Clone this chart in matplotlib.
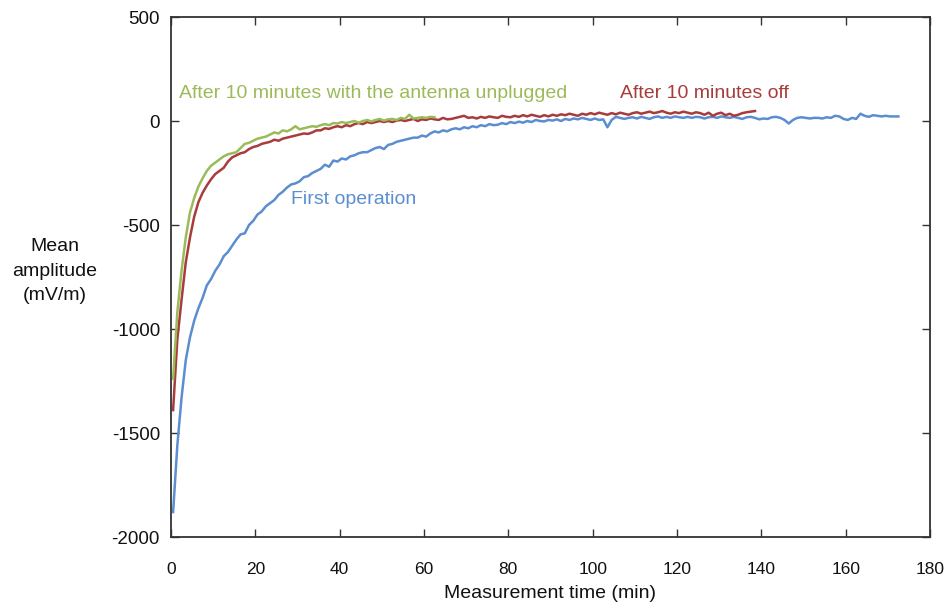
import numpy as np
import matplotlib
matplotlib.use("Agg")
import matplotlib.pyplot as plt

plt.rcParams['font.family'] = ['Liberation Sans', 'DejaVu Sans']
plt.rcParams['axes.unicode_minus'] = False

# ---- data (mV/m), sampled each minute starting at 0.5 min ----
first_operation = [
    -1880, -1560, -1330, -1150, -1040, -960, -900, -850, -790, -760,
    -720, -690, -650, -630, -600, -570, -545, -540, -500, -480,
    -450, -435, -410, -395, -380, -355, -340, -320, -305, -300,
    -290, -270, -265, -250, -240, -230, -210, -220, -190, -195,
    -180, -185, -170, -165, -155, -150, -150, -140, -130, -125,
    -135, -115, -110, -100, -95, -90, -85, -80, -80, -70,
    -75, -60, -50, -55, -45, -50, -40, -35, -40, -30,
    -35, -25, -30, -20, -25, -15, -20, -18, -10, -15,
    -5, -10, -3, -8, 0, -5, 5, 0, -2, 5,
    2, 8, 0, 10, 5, 12, 8, 15, 10, 5,
    12, 5, 8, -30, 5, 20, 15, 10, 15, 18,
    12, 20, 15, 10, 18, 22, 15, 20, 15, 22,
    18, 15, 20, 15, 20, 18, 12, 18, 20, 15,
    22, 18, 15, 20, 15, 10, 18, 20, 15, 8,
    12, 10, 18, 20, 15, 5, -12, 5, 15, 18,
    15, 12, 15, 15, 12, 18, 15, 25, 22, 10,
    5, 15, 10, 35, 25, 20, 28, 25, 22, 25,
    22, 22, 22,
]

after_off = [
    -1390, -1050, -860, -680, -560, -460, -390, -345, -310, -280,
    -255, -240, -225, -195, -175, -165, -155, -150, -135, -125,
    -120, -110, -105, -100, -90, -95, -85, -80, -75, -70,
    -65, -60, -62, -55, -45, -45, -35, -38, -30, -25,
    -30, -20, -25, -15, -10, -15, -5, -10, -5, 0,
    -5, 0, -5, 2, 5, 0, 5, 10, 0, 8,
    5, 12, 8, 5, 15, 8, 10, 15, 20, 25,
    15, 18, 12, 20, 15, 22, 18, 15, 25, 20,
    18, 25, 20, 28, 22, 30, 25, 20, 28, 22,
    30, 25, 32, 28, 35, 30, 25, 35, 30, 38,
    32, 40, 35, 30, 38, 32, 40, 35, 30, 38,
    42, 35, 40, 45, 38, 42, 48, 40, 35, 42,
    38, 45, 40, 35, 42, 38, 30, 40, 25, 35,
    40, 28, 35, 25, 30, 38, 42, 45, 48,
]

antenna_unplugged = [
    -1240, -920, -720, -560, -440, -370, -315, -275, -240, -215,
    -200, -185, -170, -160, -155, -150, -130, -110, -105, -95,
    -85, -80, -75, -65, -55, -60, -45, -50, -40, -25,
    -40, -35, -30, -25, -28, -20, -15, -20, -10, -12,
    -5, -10, -5, 0, -8, 0, 5, -2, 5, 10,
    2, 8, 10, 5, 15, 10, 30, 12, 15, 18,
    15, 20, 18,
]

x_ticks = [0, 20, 40, 60, 80, 100, 120, 140, 160, 180]
y_ticks = [-2000, -1500, -1000, -500, 0, 500]

blue = '#5A8ED0'
red = '#A83C3C'
green = '#9BBB59'

fig = plt.figure(figsize=(9.49, 6.05), dpi=100)
ax = fig.add_axes([171 / 949, 1 - 537 / 605, 759 / 949, 520 / 605])

def times(vals):
    return np.arange(len(vals)) + 0.5

ax.plot(times(first_operation), first_operation, color=blue, lw=1.8)
ax.plot(times(after_off), after_off, color=red, lw=1.8)
ax.plot(times(antenna_unplugged), antenna_unplugged, color=green, lw=1.8)

ax.set_xlim(0, 180)
ax.set_ylim(-2000, 500)
ax.set_xticks(x_ticks)
ax.set_yticks(y_ticks)

for s in ax.spines.values():
    s.set_color('#333333')
    s.set_linewidth(1.3)
ax.tick_params(axis='both', direction='in', length=6, width=1.0, color='#333333',
               top=True, right=True, labelcolor='#111111')
ax.tick_params(axis='x', pad=18, labelsize=12.5)
ax.tick_params(axis='y', pad=8, labelsize=13.5)

ax.set_xlabel('Measurement time (min)', fontsize=14, color='#111111', labelpad=6)
fig.text(55 / 949, 1 - 271 / 605, 'Mean\namplitude\n(mV/m)', ha='center', va='center',
         fontsize=14, color='#111111', linespacing=1.55)

ax.text(2.0, 130, 'After 10 minutes with the antenna unplugged', color=green,
        fontsize=14, va='center', ha='left')
ax.text(106.5, 130, 'After 10 minutes off', color=red, fontsize=14, va='center', ha='left')
ax.text(28.5, -375, 'First operation', color=blue, fontsize=14, va='center', ha='left')

fig.savefig('out.png', dpi=100)
